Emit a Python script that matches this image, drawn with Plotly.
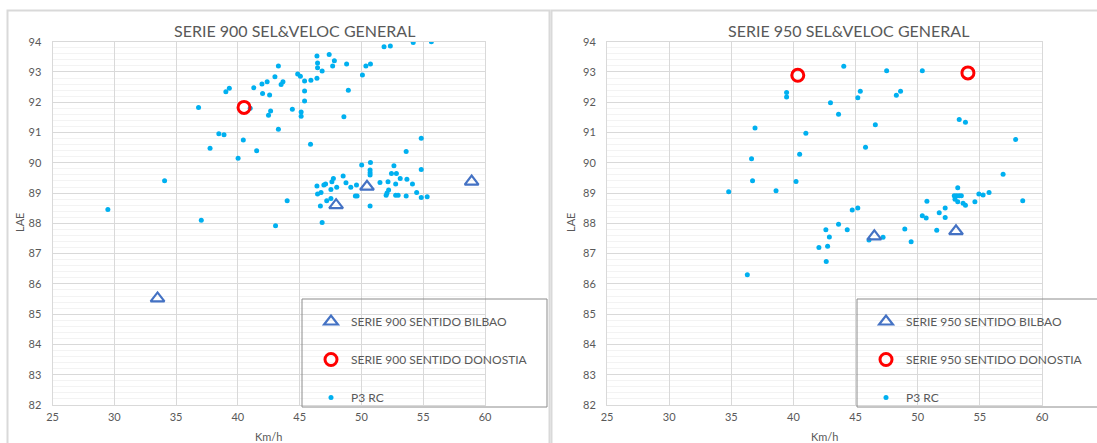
import plotly.graph_objects as go

W, H = 1097, 443

# ---------------- DATA ----------------
# Left chart: SERIE 900
p3_900_x = [55.66, 54.19, 52.34, 51.83, 50.73, 50.36, 50.08, 48.8, 48.94, 48.58, 47.39, 47.81, 47.67,
            46.4, 46.45, 46.45, 46.82, 46.4, 45.91, 45.4, 44.84, 45.06, 45.4, 45.4, 45.12, 45.12, 44.41,
            43.28, 43.0, 43.65, 43.5, 42.37, 41.95, 41.29, 42.0, 42.57, 41.0, 42.65, 42.48, 43.28, 39.31,
            39.03, 36.82, 38.46, 38.88, 40.44,
            37.75, 41.52, 40.02, 45.88, 54.84, 53.62, 34.07, 29.48, 37.04, 43.05, 43.99, 46.82, 46.68,
            47.19, 47.53, 46.4, 46.96, 47.1, 46.45, 46.73, 47.53, 47.61, 47.73, 48.0, 48.52, 48.75, 49.14,
            49.51, 49.65, 49.6, 50.02, 50.73, 50.7, 50.7, 50.7, 50.7, 51.5, 52.15, 52.2, 52.07, 52.0,
            52.63, 52.43, 52.83, 52.77, 52.77, 52.97, 53.14, 53.68, 53.62, 54.13, 54.47, 54.84, 54.84, 55.32]
p3_900_y = [94.0, 93.97, 93.86, 93.83, 93.26, 93.2, 92.9, 93.26, 92.4, 91.52, 93.58, 93.37, 93.2,
            93.53, 93.3, 93.14, 93.03, 92.79, 92.73, 92.7, 92.93, 92.86, 92.37, 92.04, 91.68, 91.54, 91.77,
            93.2, 92.84, 92.68, 92.59, 92.68, 92.6, 92.48, 92.29, 92.24, 91.8, 91.71, 91.57, 91.11, 92.46,
            92.35, 91.83, 90.96, 90.93, 90.75,
            90.48, 90.4, 90.15, 90.61, 90.81, 90.37, 89.41, 88.46, 88.1, 87.92, 88.75, 88.03, 88.57,
            88.75, 88.82, 89.23, 89.27, 89.3, 88.97, 89.02, 89.12, 89.37, 89.48, 89.19, 89.56, 89.34, 89.19,
            88.9, 88.9, 89.27, 89.93, 90.01, 89.76, 89.67, 89.6, 88.57, 89.35, 89.37, 89.1, 89.0, 88.93,
            89.9, 89.65, 89.65, 89.3, 88.93, 88.93, 89.48, 89.46, 88.9, 89.3, 89.02, 89.78, 88.85, 88.88]
bilbao_900_x = [33.5, 47.95, 50.45, 58.92]
bilbao_900_y = [85.52, 88.6, 89.21, 89.38]
donostia_900_x = [40.5]
donostia_900_y = [91.83]

# Right chart: SERIE 950
p3_950_x = [44.05, 47.5, 50.37, 39.45, 39.45, 42.98, 45.38, 45.18, 48.62, 48.28, 43.63, 46.59, 36.91,
            41.0, 53.34, 53.84, 57.88, 45.8, 36.63, 36.71, 34.79, 38.6, 40.21, 40.5, 56.87, 58.45, 53.22,
            52.94, 53.14, 53.34, 53.51, 53.0, 53.22, 53.65, 53.84, 54.6, 54.92, 55.26, 55.74, 50.74, 52.21,
            51.73, 50.37, 50.68, 52.21, 51.53, 48.96, 49.47, 47.21, 46.08, 44.73, 45.18, 43.63, 44.33,
            42.61, 42.89, 42.05, 42.75, 42.64, 36.29]
p3_950_y = [93.19, 93.04, 93.04, 92.32, 92.17, 91.98, 92.36, 92.15, 92.36, 92.23, 91.6, 91.26, 91.15,
            90.98, 91.43, 91.34, 90.77, 90.51, 90.13, 89.41, 89.04, 89.08, 89.38, 90.28, 89.62, 88.75, 89.18,
            88.91, 88.91, 88.91, 88.91, 88.8, 88.71, 88.66, 88.6, 88.71, 88.97, 88.94, 89.02, 88.73, 88.51,
            88.35, 88.25, 88.18, 88.19, 87.77, 87.81, 87.39, 87.54, 87.45, 88.44, 88.51, 87.97, 87.79,
            87.79, 87.55, 87.2, 87.24, 86.74, 86.3]
bilbao_950_x = [46.51, 53.08]
bilbao_950_y = [87.57, 87.74]
donostia_950_x = [40.35, 54.04]
donostia_950_y = [92.89, 92.97]

titles = ["SERIE 900 SEL&VELOC GENERAL", "SERIE 950 SEL&VELOC GENERAL"]
names_bilbao = ["SERIE 900 SENTIDO BILBAO", "SERIE 950 SENTIDO BILBAO"]
names_donostia = ["SERIE 900 SENTIDO DONOSTIA", "SERIE 950 SENTIDO DONOSTIA"]
name_p3 = "P3 RC"
x_title = "Km/h"
y_title = "LAE"

# ---------------- STYLE ----------------
FONT = "Lato, 'Open Sans', sans-serif"
TXT = "#595959"
DOT = "#00B0F0"
TRI = "#4472C4"
RED = "#FF0000"


def px(x):
    return x / W


def py(y):
    return 1 - y / H


fig = go.Figure()

sets = [
    (p3_900_x, p3_900_y, bilbao_900_x, bilbao_900_y, donostia_900_x, donostia_900_y, "x", "y", "legend"),
    (p3_950_x, p3_950_y, bilbao_950_x, bilbao_950_y, donostia_950_x, donostia_950_y, "x2", "y2", "legend2"),
]
for i, (px3, py3, bx, by, dx, dy, xa, ya, lg) in enumerate(sets):
    fig.add_trace(go.Scatter(x=px3, y=py3, mode="markers", name=name_p3, xaxis=xa, yaxis=ya,
                             legend=lg, legendgroup=f"p3{i}", legendrank=3,
                             marker=dict(color=DOT, size=5, line=dict(width=0))))
    fig.add_trace(go.Scatter(x=bx, y=by, mode="markers", name=names_bilbao[i], xaxis=xa, yaxis=ya,
                             legend=lg, legendgroup=f"b{i}", legendrank=1,
                             marker=dict(symbol="triangle-up-open", color=TRI, size=12,
                                         line=dict(width=2.2, color=TRI))))
    fig.add_trace(go.Scatter(x=dx, y=dy, mode="markers", name=names_donostia[i], xaxis=xa, yaxis=ya,
                             legend=lg, legendgroup=f"d{i}", legendrank=2,
                             marker=dict(symbol="circle-open", color=RED, size=12,
                                         line=dict(width=3, color=RED))))

ydom = [py(405), py(41.7)]
axis_common = dict(showgrid=True, gridcolor="#D9D9D9", gridwidth=1, showline=True, linecolor="#D9D9D9",
                   mirror=True, zeroline=False, ticks="", automargin=False,
                   tickfont=dict(family=FONT, size=11, color=TXT))
xcfg = dict(axis_common, range=[25, 60], dtick=5, tick0=25, ticklabelstandoff=2)
ycfg = dict(axis_common, range=[82, 94], dtick=1, tick0=82, ticklabelstandoff=8,
            minor=dict(dtick=0.2, showgrid=True, gridcolor="#F3F3F3", gridwidth=1))

legend_common = dict(font=dict(family=FONT, size=12, color=TXT), bgcolor="rgba(0,0,0,0)",
                     borderwidth=0, tracegroupgap=19, itemwidth=30, xanchor="left", yanchor="top",
                     itemsizing="trace")

fig.update_layout(
    width=W, height=H, margin=dict(l=0, r=0, t=0, b=0, autoexpand=False),
    paper_bgcolor="white", plot_bgcolor="white",
    xaxis=dict(xcfg, domain=[px(52.5), px(485)], anchor="y"),
    yaxis=dict(ycfg, domain=ydom, anchor="x"),
    xaxis2=dict(xcfg, domain=[px(607), px(1042)], anchor="y2"),
    yaxis2=dict(ycfg, domain=ydom, anchor="x2"),
    legend=dict(legend_common, x=px(311), y=py(307)),
    legend2=dict(legend_common, x=px(866), y=py(307)),
    showlegend=True,
)

shapes = [
    # chart frames
    dict(type="rect", xref="paper", yref="paper", x0=px(7.5), x1=px(549.5), y0=py(446), y1=py(10.5),
         line=dict(color="#D9D9D9", width=2)),
    dict(type="rect", xref="paper", yref="paper", x0=px(551.5), x1=px(1100), y0=py(446), y1=py(10.5),
         line=dict(color="#D9D9D9", width=2)),
    # legend boxes
    dict(type="rect", xref="paper", yref="paper", x0=px(302), x1=px(547), y0=py(407), y1=py(299),
         line=dict(color="#8C8C8C", width=1)),
    dict(type="rect", xref="paper", yref="paper", x0=px(857), x1=px(1105), y0=py(407), y1=py(299),
         line=dict(color="#8C8C8C", width=1)),
]
fig.update_layout(shapes=shapes)

ann = []
for cx, t in [(294, titles[0]), (848, titles[1])]:
    ann.append(dict(text=t, x=px(cx), y=py(31), xref="paper", yref="paper", showarrow=False,
                    xanchor="center", yanchor="middle", font=dict(family=FONT, size=16, color=TXT)))
for cx in [268.5, 824.5]:
    ann.append(dict(text=x_title, x=px(cx), y=py(436), xref="paper", yref="paper", showarrow=False,
                    xanchor="center", yanchor="middle", font=dict(family=FONT, size=11, color=TXT)))
for cx in [20, 571]:
    ann.append(dict(text=y_title, x=px(cx), y=py(223), xref="paper", yref="paper", showarrow=False,
                    textangle=-90, xanchor="center", yanchor="middle",
                    font=dict(family=FONT, size=11, color=TXT)))
fig.update_layout(annotations=ann)

fig.write_html("out.html", config={"displayModeBar": False},
               post_script="document.body.style.margin='0';document.body.style.overflow='hidden';")
